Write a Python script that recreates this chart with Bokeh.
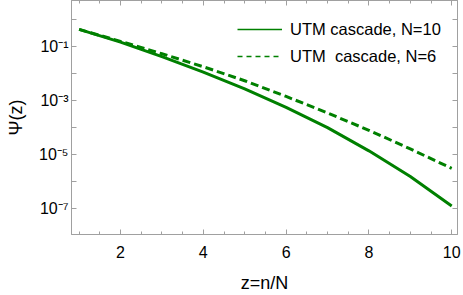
from bokeh.plotting import figure
from bokeh.models import (LogAxis, LinearAxis, FixedTicker, SingleIntervalTicker,
                          CustomJSTickFormatter, Legend, LegendItem, Range1d)
from bokeh.embed import file_html
from bokeh.resources import INLINE

# ---- data ----
z = [1, 2, 3, 4, 5, 6, 7, 8, 9, 10]
psi_n10 = [0.437, 0.148, 0.0427, 0.0115, 2.75e-3, 5.75e-4, 1.02e-4, 1.41e-5, 1.58e-6, 1.29e-7]
psi_n6 = [0.437, 0.158, 0.055, 0.0182, 5.5e-3, 1.45e-3, 3.55e-4, 8.1e-5, 1.66e-5, 3.16e-6]
series_labels = ["UTM cascade, N=10", "UTM  cascade, N=6"]
y_ticks = [1.0, 1e-1, 1e-2, 1e-3, 1e-4, 1e-5, 1e-6, 1e-7, 1e-8]
y_tick_labels = ["", "10\u207b\u00b9", "", "10\u207b\u00b3", "", "10\u207b\u2075", "", "10\u207b\u2077", ""]
x_label = "z=n/N"
y_label = "\u03a8(z)"

FONT = "Liberation Sans"
AX = "#a0a0a0"
GREEN = "#008000"

p = figure(width=463, height=295, y_axis_type="log",
           x_range=Range1d(0.816, 10.14), y_range=Range1d(10 ** -7.945, 10 ** 0.709),
           output_backend="svg", toolbar_location=None,
           min_border_left=71, min_border_right=6, min_border_top=0, min_border_bottom=57)
p.grid.visible = False
p.outline_line_color = AX
p.background_fill_color = "white"
p.border_fill_color = "white"

p.line(z, psi_n10, line_color=GREEN, line_width=3)
p.line(z, psi_n6, line_color=GREEN, line_width=3, line_dash="8 4")

# legend samples (thinner lines like reference); a single point draws no line in the plot
leg_solid = p.line(z[:1], psi_n10[:1], line_color=GREEN, line_width=1.6)
leg_dash = p.line(z[:1], psi_n6[:1], line_color=GREEN, line_width=1.6, line_dash="5 4")
legend = Legend(items=[LegendItem(label=series_labels[0], renderers=[leg_solid]),
                       LegendItem(label=series_labels[1], renderers=[leg_dash])],
                location=(166, 168), padding=0, margin=0, spacing=7,
                glyph_width=45, glyph_height=20, label_height=20, label_standoff=8,
                label_text_font=FONT, label_text_font_size="16.5px", label_text_color="black",
                border_line_color=None, background_fill_alpha=0)
p.add_layout(legend)

xt = SingleIntervalTicker(interval=2, num_minor_ticks=4)
yt = FixedTicker(ticks=y_ticks, minor_ticks=[])
yfmt = CustomJSTickFormatter(args=dict(yvals=y_ticks, ylabs=y_tick_labels), code="""
for (let j = 0; j < yvals.length; j++) {
  if (Math.abs(Math.log10(yvals[j]) - Math.log10(tick)) < 1e-6) return ylabs[j];
}
return "";
""")
blank = CustomJSTickFormatter(code="return '';")

def style(ax):
    ax.axis_line_color = AX
    ax.major_tick_line_color = AX
    ax.minor_tick_line_color = AX
    ax.major_tick_in = 5
    ax.major_tick_out = 0
    ax.minor_tick_in = 3
    ax.minor_tick_out = 0
    ax.major_label_text_font = FONT
    ax.major_label_text_font_size = "16px"
    ax.major_label_text_color = "black"
    ax.axis_label_text_font = FONT
    ax.axis_label_text_font_size = "18px"
    ax.axis_label_text_font_style = "normal"
    ax.axis_label_text_color = "black"

xa = p.xaxis[0]
xa.ticker = xt
style(xa)
xa.axis_label = x_label
xa.major_label_standoff = 11
xa.axis_label_standoff = 12

ya = p.yaxis[0]
ya.ticker = yt
ya.formatter = yfmt
style(ya)
ya.axis_label = y_label
ya.major_label_standoff = 3
ya.axis_label_standoff = 10

top = LinearAxis(ticker=SingleIntervalTicker(interval=2, num_minor_ticks=4), formatter=blank)
style(top)
top.major_label_standoff = 0
p.add_layout(top, "above")

right = LogAxis(ticker=FixedTicker(ticks=y_ticks, minor_ticks=[]), formatter=blank)
style(right)
right.major_label_standoff = 0
p.add_layout(right, "right")

open("out.html", "w").write(file_html(p, INLINE))
